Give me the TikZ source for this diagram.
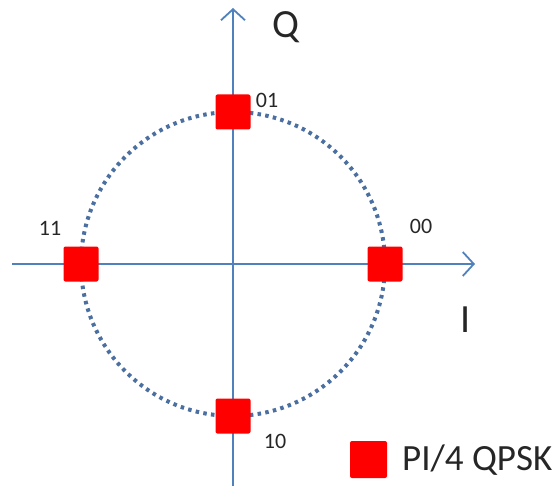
\documentclass[tikz,border=0pt]{standalone}
\usepackage{fontspec}
\setmainfont{Carlito}
\usetikzlibrary{arrows.meta}
\definecolor{axisblue}{HTML}{4F81BD}
\definecolor{dotblue}{HTML}{4A6FA0}
\definecolor{sqred}{HTML}{FF0000}
\tikzset{
  axisline/.style={draw=axisblue, line width=1.8pt, -{Straight Barb[length=11pt,width=24pt,line width=1.8pt]}},
  sym/.style={fill=sqred, minimum size=35pt, inner sep=0pt, rounded corners=2pt},
  bits/.style={font=\fontsize{22}{24}\selectfont, text=black!85},
  axlab/.style={font=\fontsize{40}{44}\selectfont, text=black!85}
}
\begin{document}
\begin{tikzpicture}[x=1pt,y=-1pt]
\useasboundingbox (0,0) rectangle (556,486);
\coordinate (c) at (233,264);
\coordinate (xl) at (12,264);
\coordinate (xr) at (475,264);
\coordinate (yb) at (233,486);
\coordinate (yt) at (233,8);
\draw[axisline] (xl) -- (xr);
\draw[axisline] (yb) -- (yt);
\draw[dotblue, line width=4pt, dash pattern=on 3.5pt off 4.3pt] (c) circle[radius=152];
\node[sym] (s01) at (233,112) {};
\node[sym] (s11) at (81,264) {};
\node[sym] (s00) at (385,264) {};
\node[sym] (s10) at (233,416) {};
\node[bits] (l01) at (267,100) {01};
\node[bits] (l11) at (50,228) {11};
\node[bits] (l00) at (421,226) {00};
\node[bits] (l10) at (275,441) {10};
\node[axlab] (Q) at (286,27) {Q};
\node[axlab] (I) at (466,320) {I};
\node[sym, minimum size=37pt] (leg) at (368.5,459.5) {};
\node[anchor=west, font=\fontsize{37}{40}\selectfont, text=black!85, inner sep=0pt] (legtxt) at (402,460) {PI/4 QPSK};
\end{tikzpicture}
\end{document}
